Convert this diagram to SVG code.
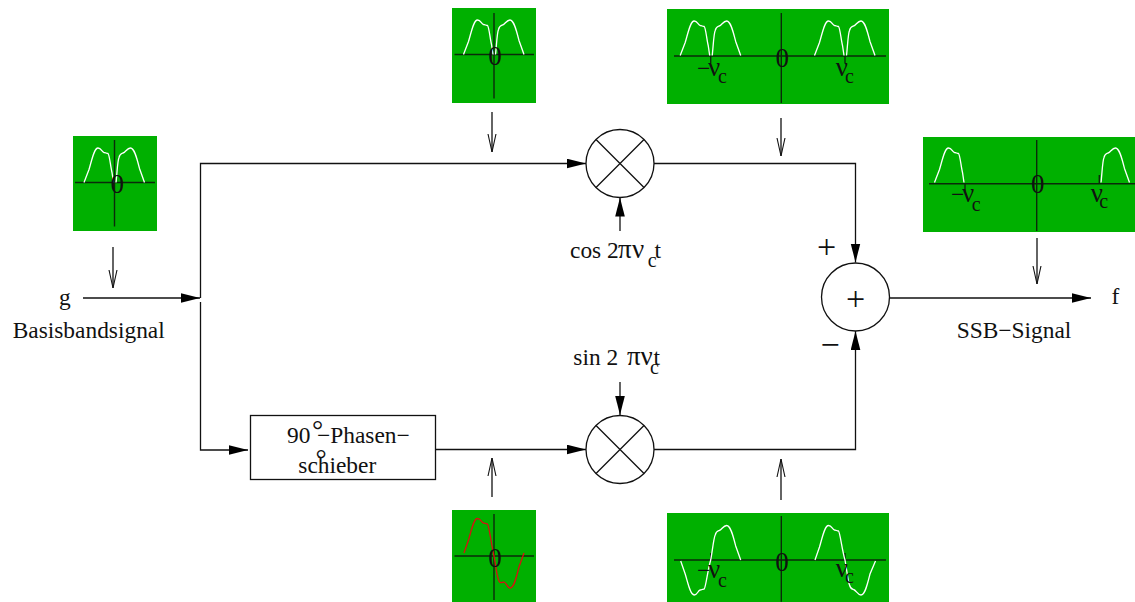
<svg xmlns="http://www.w3.org/2000/svg" xmlns:xlink="http://www.w3.org/1999/xlink" width="1135" height="602" viewBox="0 0 1135 602">
<style>
text{font-family:"Liberation Serif","Times New Roman",serif;font-size:23.4px;fill:#111}
.s{font-size:20px}
.g{font-size:27px}
.z{font-size:27px;text-anchor:middle}
.p{font-size:34px;text-anchor:middle}
.d{font-size:28px}
.b{fill:#00b000}
.ax{stroke:#0a2a0a;stroke-width:1.4;fill:none}
.w{stroke:#fff;stroke-width:1.3;fill:none}
.r{stroke:#d81010;stroke-width:1.3;fill:none}
.l{stroke:#111;stroke-width:1.3;fill:none}
.o{stroke:#111;stroke-width:1.3;fill:#fff}
</style>
<defs>
<marker id="fa" markerUnits="userSpaceOnUse" markerWidth="20" markerHeight="12" refX="19" refY="5" orient="auto"><path d="M0 0.2L19 5L0 9.800Z" fill="#000"/></marker>
<marker id="oa" markerUnits="userSpaceOnUse" markerWidth="20" markerHeight="12" refX="18" refY="5" orient="auto"><path d="M0 1L18 5L0 9" fill="none" stroke="#111" stroke-width="1.100"/></marker>
<path id="lobeL" d="M-30.500 0L-25.500 -13C-23 -21 -20.500 -34.500 -16.500 -34.500C-13 -34.500 -13 -30.500 -10.500 -30C-9 -30 -8 -29 -6.500 -29C-5 -28 -4 -16 -2.500 -10L-1 0"/>
<path id="lobeR" d="M1.500 0C2.500 -8 3 -22 4.500 -25C5.500 -29 7 -29 8.500 -29.500C11 -30 12.500 -34.500 16 -34.500C20 -34.500 22.500 -24 25 -14L30 0"/>
</defs>

<g id="connectors">
<path class="l" d="M83 298H200" marker-end="url(#fa)"/>
<path class="l" d="M200.500 298V163.500H586" marker-end="url(#fa)"/>
<path class="l" d="M200.500 302V450H248" marker-end="url(#fa)"/>
<path class="l" d="M436 449.500H586" marker-end="url(#fa)"/>
<path class="l" d="M654 163.500H855.500V262.500" marker-end="url(#fa)"/>
<path class="l" d="M654 449.500H855.500V331" marker-end="url(#fa)"/>
<path class="l" d="M889 298H1091" marker-end="url(#fa)"/>
<path class="l" d="M620 231V197.500" marker-end="url(#fa)"/>
<path class="l" d="M620 382V415" marker-end="url(#fa)"/>
<path class="l" stroke-width="1" d="M113 247V288" marker-end="url(#oa)"/>
<path class="l" stroke-width="1" d="M492 112V152" marker-end="url(#oa)"/>
<path class="l" stroke-width="1" d="M781 118V156" marker-end="url(#oa)"/>
<path class="l" stroke-width="1" d="M1037 238V284" marker-end="url(#oa)"/>
<path class="l" stroke-width="1" d="M492 497V458" marker-end="url(#oa)"/>
<path class="l" stroke-width="1" d="M781 500V459" marker-end="url(#oa)"/>
</g>

<g id="mixer-cos"><circle class="o" cx="620" cy="163.500" r="34"/><path class="l" d="M596 139.500L644 187.500M644 139.500L596 187.500"/></g>
<g id="mixer-sin"><circle class="o" cx="620" cy="449.500" r="34"/><path class="l" d="M596 425.500L644 473.500M644 425.500L596 473.500"/></g>
<g id="adder"><circle class="o" cx="855.500" cy="297" r="34"/><text class="p" x="855.500" y="310">+</text></g>
<text class="p" x="826.700" y="257.500">+</text>
<text class="p" x="830" y="356">−</text>

<g id="phase-shifter">
<rect class="o" x="250.500" y="415.500" width="185" height="64"/>
<text x="287" y="443.300">90</text>
<text class="d" x="312" y="439">°</text>
<text x="317" y="443.300">−Phasen−</text>
<text x="298.300" y="473.300">schieber</text>
<text class="d" x="315.500" y="468">°</text>
</g>

<g id="spec-input">
<rect class="b" x="73" y="136" width="84" height="95"/>
<path class="ax" d="M75 182.500H155M114.500 140V226.500"/>
<g class="w" transform="translate(114.500,182.500)"><use xlink:href="#lobeL" href="#lobeL"/><use xlink:href="#lobeR" href="#lobeR"/></g>
<text class="z" x="117.300" y="193.300">0</text>
</g>

<g id="spec-upper-base">
<rect class="b" x="452" y="8" width="84" height="95"/>
<path class="ax" d="M454.500 54.500H534M494 13V98.500"/>
<g class="w" transform="translate(494,54.500)"><use xlink:href="#lobeL" href="#lobeL"/><use xlink:href="#lobeR" href="#lobeR"/></g>
<text class="z" x="495" y="64.500">0</text>
</g>

<g id="spec-upper-mod">
<rect class="b" x="667" y="9" width="222" height="95"/>
<path class="ax" d="M674 56H886M781.300 13V103M710.700 56V63M845 56V63"/>
<g class="w" transform="translate(710.700,55.500)"><use xlink:href="#lobeL" href="#lobeL"/><use xlink:href="#lobeR" href="#lobeR"/></g>
<g class="w" transform="translate(845,55.500)"><use xlink:href="#lobeL" href="#lobeL"/><use xlink:href="#lobeR" href="#lobeR"/></g>
<text class="z" x="782.300" y="66.500">0</text>
<text x="697" y="76">−</text><text class="g" x="708" y="76">ν</text><text class="s" x="718" y="82.500">c</text>
<text class="g" x="835.700" y="76">ν</text><text class="s" x="845" y="82.500">c</text>
</g>

<g id="spec-ssb">
<rect class="b" x="923" y="137" width="212" height="95"/>
<path class="ax" d="M929 183.700H1135M1036.700 140V231M965 183.700V191M1099.300 175V184"/>
<g class="w" transform="translate(965,182.500)"><use xlink:href="#lobeL" href="#lobeL"/></g>
<g class="w" transform="translate(1099.500,182.500)"><use xlink:href="#lobeR" href="#lobeR"/></g>
<text class="z" x="1037.700" y="192.500">0</text>
<text x="951" y="201.700">−</text><text class="g" x="962" y="201.700">ν</text><text class="s" x="971.700" y="211">c</text>
<text class="g" x="1090.700" y="201.700">ν</text><text class="s" x="1099.300" y="207.500">c</text>
</g>

<g id="spec-lower-base">
<rect class="b" x="452" y="510" width="84" height="92"/>
<path class="ax" d="M454.500 556H534M494 514V600"/>
<path class="r" transform="translate(494,553)" d="M-30 0L-25.500 -13C-23 -21 -20.500 -34.500 -16.500 -34.500C-13 -34.500 -13 -30.500 -10.500 -30C-9 -30 -8 -29 -6.500 -29C-5 -28 -3 -10 0 3C2 14 3 24 5 28C6 31 8 29 10 29C13 30 13 35 16 35C20 35 22.500 24 25 14L30 0"/>
<text class="z" x="495" y="567">0</text>
</g>

<g id="spec-lower-mod">
<rect class="b" x="667" y="513" width="222" height="89"/>
<path class="ax" d="M674 560H886M781.300 516V601.700M710.700 553V560M845 553V560"/>
<path class="w" transform="translate(710.700,560)" d="M-30 1L-25.500 14C-23 22 -20.500 35 -16.500 35C-13 35 -13 30.500 -10.500 30C-9 30 -8 29 -6.500 29C-5 28 -3 10 0 0C1.500 -8 3 -22 4.500 -25C5.500 -29 7 -29 8.500 -29.500C11 -30 12.500 -34.500 16 -34.500C20 -34.500 22.500 -24 25 -14L30 0"/>
<path class="w" transform="translate(845,560)" d="M-30 0L-25.500 -13C-23 -21 -20.500 -34.500 -16.500 -34.500C-13 -34.500 -13 -30.500 -10.500 -30C-9 -30 -8 -29 -6.500 -29C-5 -28 -3 -10 0 0C1.500 8 3 22 4.500 25C5.500 29 7 29 8.500 29.500C11 30 12.500 35 16 35C20 35 22.500 24 25 14L30.500 1"/>
<text class="z" x="782" y="570.500">0</text>
<text x="697" y="577.700">−</text><text class="g" x="708" y="577.700">ν</text><text class="s" x="718" y="586.700">c</text>
<text class="g" x="835.700" y="576.700">ν</text><text class="s" x="845" y="583">c</text>
</g>

<g id="labels">
<text x="59" y="305">g</text>
<text x="12.700" y="337.700">Basisbandsignal</text>
<text x="956.700" y="337.700">SSB−Signal</text>
<text x="1111.500" y="304">f</text>
<text x="570" y="258">cos 2</text><text class="g" x="618" y="258">π</text><text class="g" x="632" y="258">ν</text><text class="s" x="647.700" y="266.700">c</text><text x="654.500" y="258">t</text>
<text x="573.300" y="365">sin 2</text><text class="g" x="627" y="365">π</text><text class="g" x="640.500" y="365">ν</text><text class="s" x="650" y="374">c</text><text x="653.500" y="365">t</text>
</g>
</svg>
